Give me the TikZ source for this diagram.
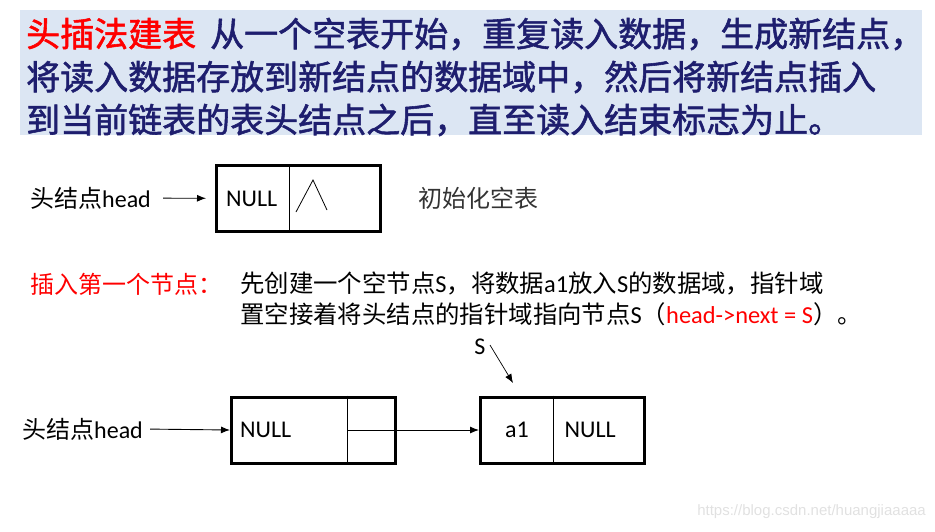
\documentclass[tikz,border=0pt]{standalone}
\usepackage{fontspec}
\setmainfont{Carlito}
\newfontfamily\cjk{Noto Sans CJK SC}
\newfontfamily\cjkheavy[FakeBold=1.6]{Noto Sans CJK SC}
\newfontfamily\urlfont{Liberation Sans}
\usepackage{xcolor}
\usetikzlibrary{positioning,arrows.meta}
\definecolor{bannerblue}{RGB}{220,230,243}
\definecolor{navytext}{RGB}{30,30,110}
\definecolor{marktext}{RGB}{255,0,0}
\definecolor{urlgray}{RGB}{225,225,225}

\begin{document}
\begin{tikzpicture}[x=1pt,y=-1pt,
	cell/.style={draw, line width=3pt, minimum width=164pt, minimum height=66pt, inner sep=0pt},
	lbl/.style={font=\fontsize{24}{28}\selectfont, inner sep=0pt},
	note/.style={font=\fontsize{24.4}{29}\selectfont, inner sep=0pt, anchor=west},
	big/.style={font=\fontsize{34}{40}\selectfont\cjkheavy, inner sep=0pt, anchor=west},
	ptr/.style={-{Latex[length=9pt,width=7pt]}, line width=0.9pt}]
\useasboundingbox (0,0) rectangle (935,531);

% banner
\node[fill=bannerblue, minimum width=902pt, minimum height=125pt, inner sep=0pt, anchor=north west] (banner) at (20,10) {};
\node[big] (line1) at (26,34) {\textcolor{marktext}{头插法建表}\hspace{14pt}\textcolor{navytext}{从一个空表开始，重复读入数据，生成新结点，}};
\node[big, text=navytext] (line2) at (26,77) {将读入数据存放到新结点的数据域中，然后将新结点插入};
\node[big, text=navytext] (line3) at (26,120) {到当前链表的表头结点之后，直至读入结束标志为止。};

% empty list
\node[cell] (init) at (298.5,198.5) {};
\draw[line width=0.8pt] ([xshift=74pt]init.north west) -- ([xshift=74pt]init.south west);
\node[lbl, right=11pt of init.west] (null0) {NULL};
\draw[line width=0.8pt] ([shift={(-2.5,13.5)}]init.center) -- ([shift={(14.5,-18.5)}]init.center) -- ([shift={(28.5,11.5)}]init.center);
\node[lbl, anchor=west] (head0) at (30,198) {{\cjk 头结点}head};
\draw[ptr, shorten <=12pt, shorten >=9pt] (head0) -- (init);
\node[lbl, right=36pt of init, text=black!80] (empty) {\cjk 初始化空表};

% first insertion
\node[lbl, anchor=west, text=marktext] (step1) at (30,284) {\cjk 插入第一个节点：};
\node[note] (text1) at (240,283) {{\cjk 先创建一个空节点}S{\cjk ，将数据}a1{\cjk 放入}S{\cjk 的数据域，指针域}};
\node[note] (text2) at (240,314) {{\cjk 置空接着将头结点的指针域指向节点}S{\cjk （}\textcolor{marktext}{head->next = S}{\cjk ）。}};

% list with one node
\node[cell] (first) at (313.5,430) {};
\draw[line width=0.8pt] ([xshift=117pt]first.north west) -- ([xshift=117pt]first.south west);
\node[lbl, right=10pt of first.west] (null1) {NULL};
\node[cell, right=82pt of first] (node1) {};
\draw[line width=0.8pt] ([xshift=74pt]node1.north west) -- ([xshift=74pt]node1.south west);
\node[lbl] (a1) at ([xshift=38pt]node1.west) {a1};
\node[lbl, right=2pt of node1.center] (null2) {NULL};
\node[lbl, anchor=west] (head1) at (22,429) {{\cjk 头结点}head};
\draw[ptr, shorten <=7pt] (head1.east) -- (first.west);
\draw[ptr] ([xshift=117pt]first.west) -- (node1.west);
\node[lbl] (sname) at (480,347) {S};
\coordinate (stip) at (513,383);
\draw[ptr, line width=0.7pt] ([shift={(10,-2)}]sname.center) -- (stip);

% watermark
\node[font=\fontsize{15}{18}\selectfont\urlfont, text=urlgray, anchor=east, inner sep=0pt] (url) at (926,512) {https://blog.csdn.net/huangjiaaaaa};
\end{tikzpicture}
\end{document}
